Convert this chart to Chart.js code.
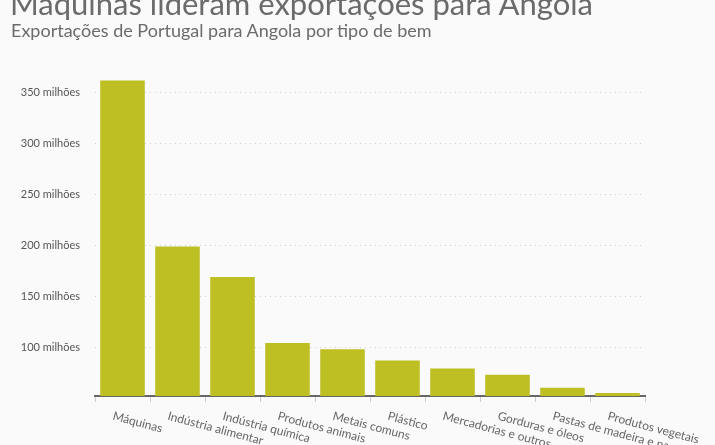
<!DOCTYPE html>
<html><head><meta charset="utf-8">
<script src="https://cdn.jsdelivr.net/npm/chart.js@4"></script>
<style>
body{margin:0;background:#fafafa;overflow:hidden;font-family:Lato,sans-serif}
#t{position:absolute;left:10px;top:-16px;font-size:31px;color:#6b6b6b;white-space:nowrap}
#s{position:absolute;left:11px;top:19px;font-size:18px;color:#6b6b6b;white-space:nowrap}
#w{position:absolute;left:0;top:0;width:715px;height:445px}
</style></head><body>
<div id="w"><canvas id="c"></canvas></div>
<div id="t">Máquinas lideram exportações para Angola</div>
<div id="s">Exportações de Portugal para Angola por tipo de bem</div>
<script>
const categories=["Máquinas","Indústria alimentar","Indústria química","Produtos animais","Metais comuns","Plástico","Mercadorias e outros","Gorduras e óleos","Pastas de madeira e papel","Produtos vegetais"];
const values=[362,199,169,104,98,87,79,73,60,55];
const tickValues=[100,150,200,250,300,350];
const labelPlugin={id:'lbl',afterDraw(ch){const x=ch.scales.x,c=ch.ctx;c.save();c.font='12px Lato';c.fillStyle='#666';c.textAlign='left';c.textBaseline='top';
categories.forEach((t,i)=>{c.save();c.translate(x.getPixelForTick(i)-8,ch.chartArea.bottom+14);c.rotate(0.26);c.fillText(t,0,0);c.restore();});c.restore();}};
new Chart(document.getElementById('c'),{type:'bar',
data:{labels:categories,datasets:[{data:values,backgroundColor:'#bdbf23',barPercentage:0.81,categoryPercentage:1}]},
options:{responsive:true,maintainAspectRatio:false,animation:false,
layout:{padding:{top:0,right:70,left:5,bottom:0}},
plugins:{legend:{display:false},tooltip:{enabled:false}},
scales:{
y:{min:52,max:420,afterBuildTicks(s){s.ticks=tickValues.map(v=>({value:v}));},afterFit(s){s.width=90;},
grid:{color:'#d0d0d0',drawTicks:false},border:{display:false,dash:[1,4]},
ticks:{padding:15,color:'#555',font:{family:'Lato',size:11},callback:v=>v+' milhões'}},
x:{afterFit(s){s.height=49;},grid:{drawOnChartArea:false,color:'#ccc',tickLength:6},border:{color:'#666',width:2},ticks:{display:false}}}},
plugins:[labelPlugin]});
</script></body></html>
